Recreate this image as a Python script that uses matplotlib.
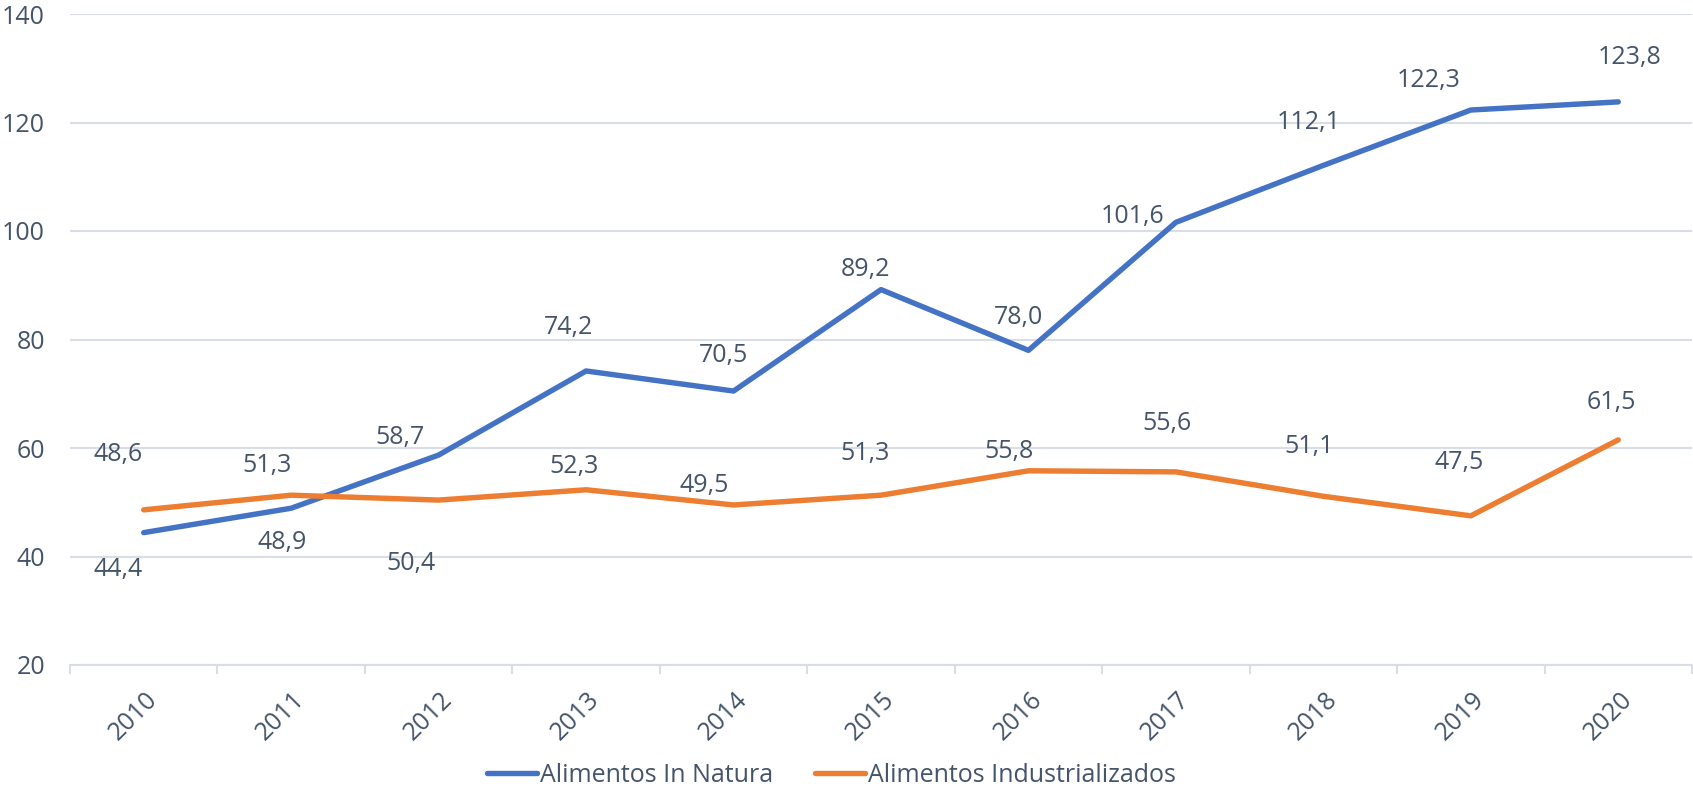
import matplotlib
matplotlib.use("Agg")
import matplotlib.pyplot as plt
import matplotlib.transforms as mtransforms

# dados
anos = ["2010", "2011", "2012", "2013", "2014", "2015", "2016", "2017", "2018", "2019", "2020"]
in_natura = [44.4, 48.9, 58.7, 74.2, 70.5, 89.2, 78.0, 101.6, 112.1, 122.3, 123.8]
industrializados = [48.6, 51.3, 50.4, 52.3, 49.5, 51.3, 55.8, 55.6, 51.1, 47.5, 61.5]

AZUL = "#4472C4"
LARANJA = "#ED7D31"
TEXTO = "#44546A"
GRADE = "#D9DEE6"
FS = 18

plt.rcParams["font.family"] = ["Open Sans", "DejaVu Sans"]

# posicao dos rotulos (pixels, relativo ao ponto)
off_natura = [(-26, -37), (-9, -34), (-39, 18), (-18, 43), (-10, 36), (-16, 20),
              (-10, 33), (-43, 6), (-15, 43), (-42, 30), (11, 44)]
off_indus = [(-26, 55), (-24, 30), (-28, -63), (-12, 23), (-29, 19), (-16, 42),
             (-19, 19), (-9, 48), (-14, 50), (-12, 53), (-7, 37)]

fig = plt.figure(figsize=(16.93, 7.97), dpi=100)
ax = fig.add_axes([70 / 1693, 132 / 797, 1622 / 1693, 651 / 797])

x = list(range(len(anos)))
ax.plot(x, in_natura, color=AZUL, lw=3.9, solid_capstyle="round", label="Alimentos In Natura", zorder=3)
ax.plot(x, industrializados, color=LARANJA, lw=3.9, solid_capstyle="round", label="Alimentos Industrializados", zorder=3)

for i, v in enumerate(in_natura):
    ax.annotate(f"{v:.1f}".replace(".", ","), (i, v), xytext=off_natura[i], textcoords="offset pixels",
                ha="center", va="center", fontsize=FS, color=TEXTO)
for i, v in enumerate(industrializados):
    ax.annotate(f"{v:.1f}".replace(".", ","), (i, v), xytext=off_indus[i], textcoords="offset pixels",
                ha="center", va="center", fontsize=FS, color=TEXTO)

ax.set_xlim(-0.5, len(anos) - 0.5)
ax.set_ylim(20, 140)
ax.set_yticks(range(20, 141, 20))
ax.yaxis.grid(True, color=GRADE, lw=1.5)
ax.set_axisbelow(True)

for s in ["top", "right", "left"]:
    ax.spines[s].set_visible(False)
ax.spines["bottom"].set_color(GRADE)
ax.spines["bottom"].set_linewidth(1.5)

ax.tick_params(axis="y", length=0, pad=18, labelsize=FS, labelcolor=TEXTO)
ax.set_xticks(x)
ax.set_xticklabels(anos)
ax.set_xticks([i - 0.5 for i in range(len(anos) + 1)], minor=True)
ax.tick_params(axis="x", which="major", length=0, pad=22, labelsize=FS, labelcolor=TEXTO)
ax.tick_params(axis="x", which="minor", length=6.3, width=1.5, color=GRADE)

desloc = mtransforms.ScaledTranslation(10 / 100, 0, fig.dpi_scale_trans)
for lbl in ax.get_xticklabels():
    lbl.set_rotation(45)
    lbl.set_rotation_mode("anchor")
    lbl.set_ha("right")
    lbl.set_va("center")
    lbl.set_transform(lbl.get_transform() + desloc)

fig.legend(loc="center", bbox_to_anchor=(0.491, 1 - 775 / 797), ncol=2, frameon=False,
           fontsize=FS, labelcolor=TEXTO, handlelength=2.0, handletextpad=0.1, columnspacing=1.7)

plt.savefig("out.png", dpi=100)
